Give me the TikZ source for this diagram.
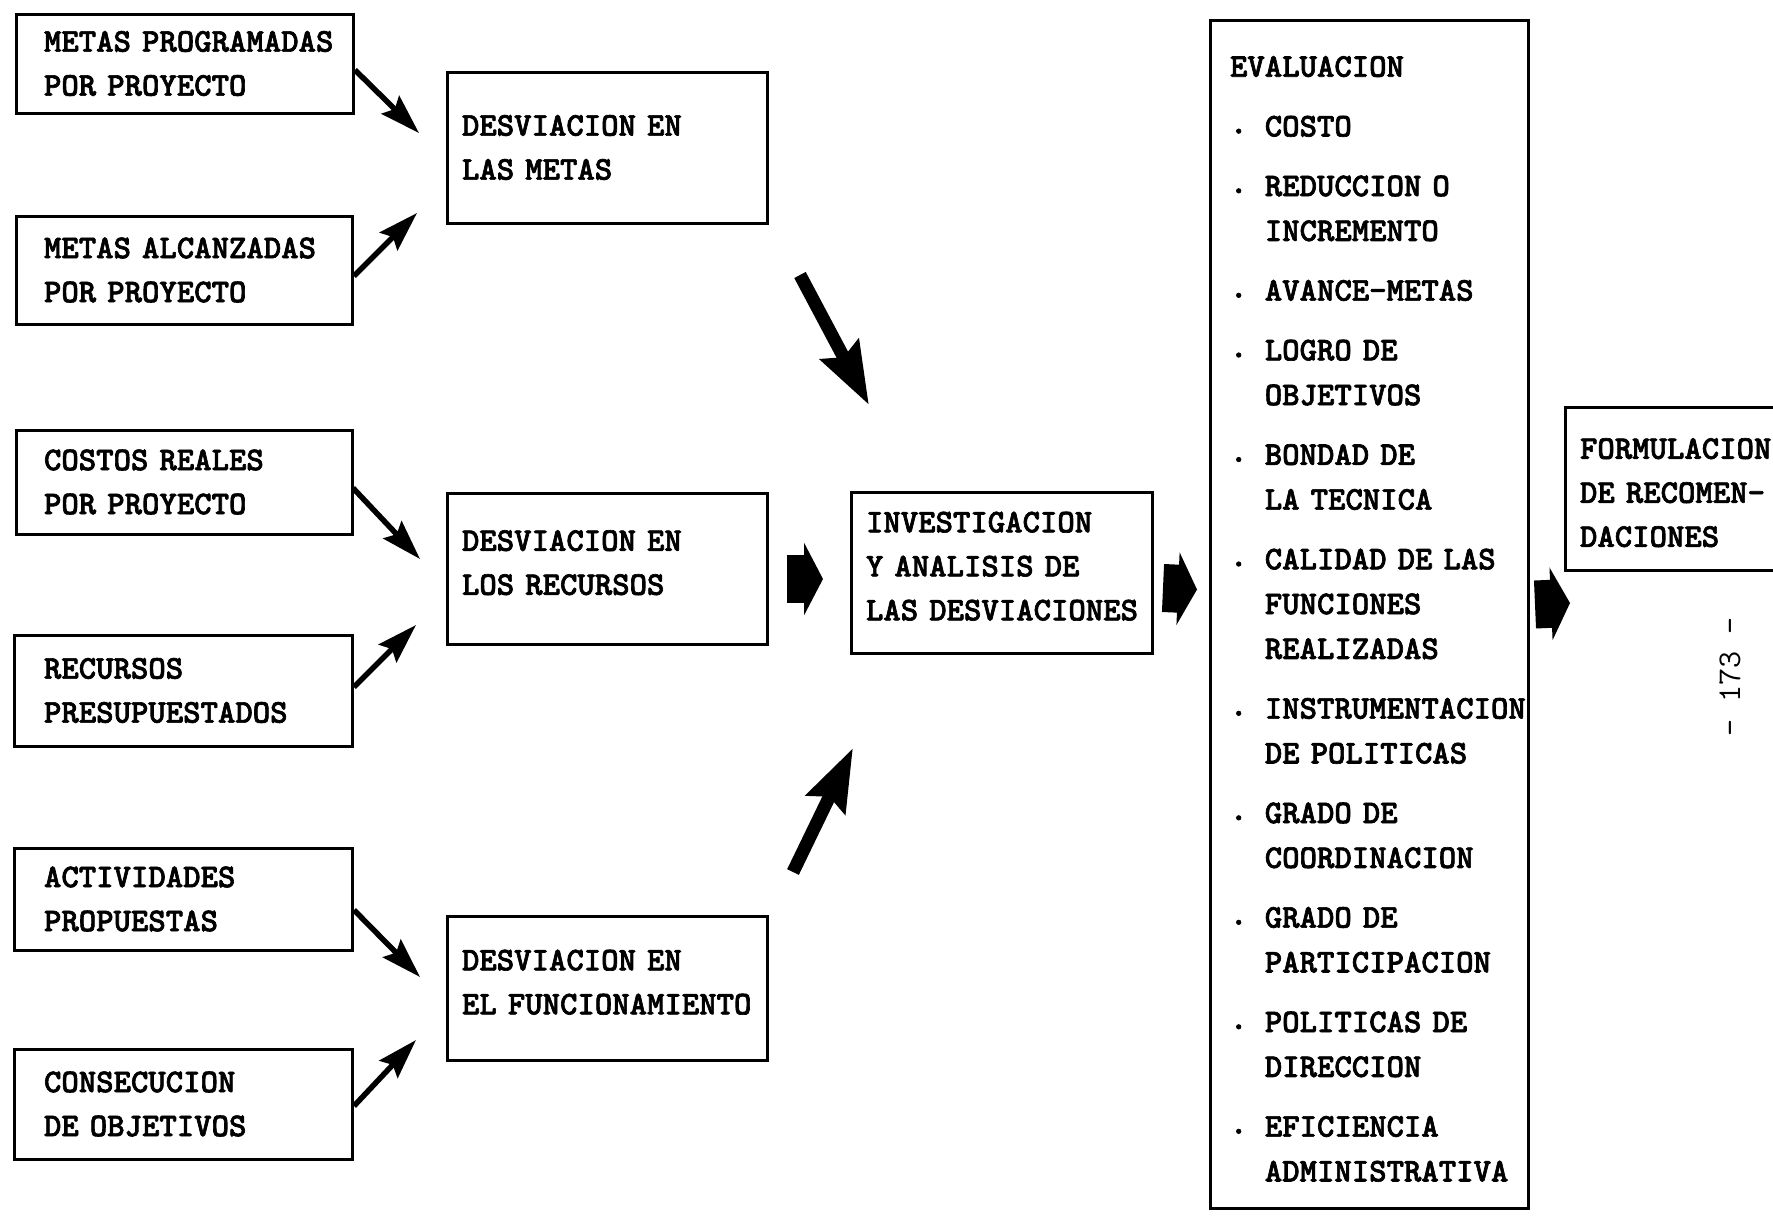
\documentclass[tikz,border=0pt]{standalone}
\usepackage{fontspec}
\newfontfamily\twb{lmmonolt10-bold.otf}[FakeBold=2]
\usetikzlibrary{arrows.meta,calc}
\hyphenpenalty=10000
\exhyphenpenalty=10000
\newcommand\evbul{\makebox[34.8pt][l]{\raisebox{3pt}{.}}}
\newcommand\evind{\hspace*{34.8pt}}
\newcommand\topstrut[1]{\rule{0pt}{#1}}
\newcommand\botstrut[1]{\rule[-#1]{0pt}{#1}}
\begin{document}
\begin{tikzpicture}[x=1pt,y=-1pt,
  box/.style={draw, line width=3pt, anchor=north west, inner xsep=0pt, inner ysep=0pt,
    outer sep=0pt, align=left, font=\twb\fontsize{33.14}{44}\selectfont},
  sarrow/.style={line width=5.5pt, -{Stealth[length=40pt,width=25pt,inset=6pt]}},
  barrow/.style={line width=13pt, -{Stealth[length=62pt,width=42pt,inset=8pt]}},
  blockarrow/.style={line width=48pt, -{Triangle[length=19pt,width=72pt]}},
  pagenum/.style={font=\ttfamily\fontsize{33.14}{40}\selectfont, rotate=90}
]
\useasboundingbox (0,0) rectangle (1773,1216);
\fill[white] (0,0) rectangle (1773,1216);
\clip (0,0) rectangle (1773,1216);

% left column
\node[box, text width=281pt, minimum width=337pt, minimum height=99pt] (b1) at (16,14)
  {METAS~PROGRAMADAS\\POR~PROYECTO};
\node[box, text width=280pt, minimum width=336pt, minimum height=108pt] (b2) at (16,216)
  {METAS~ALCANZADAS\\POR~PROYECTO};
\node[box, text width=280pt, minimum width=336pt, minimum height=104pt] (b3) at (16,430)
  {COSTOS~REALES\\POR~PROYECTO};
\node[box, text width=278pt, minimum width=338pt, minimum height=111pt] (b4) at (14,635)
  {RECURSOS\\PRESUPUESTADOS};
\node[box, text width=278pt, minimum width=338pt, minimum height=102pt] (b5) at (14,848)
  {ACTIVIDADES\\PROPUESTAS};
\node[box, text width=278pt, minimum width=338pt, minimum height=110pt] (b6) at (14,1049)
  {CONSECUCION\\DE~OBJETIVOS};

% middle column
\node[box, text width=290pt, minimum width=320pt, minimum height=151pt] (dm) at (447,72)
  {DESVIACION~EN\\LAS~METAS};
\node[box, text width=290pt, minimum width=320pt, minimum height=151pt] (dr) at (447,493)
  {DESVIACION~EN\\LOS~RECURSOS\botstrut{12pt}};
\node[box, text width=290pt, minimum width=320pt, minimum height=144pt] (df) at (447,916)
  {DESVIACION~EN\\EL~FUNCIONAMIENTO\botstrut{12pt}};

\node[box, text width=271pt, minimum width=301pt, minimum height=161pt] (inv) at (851,492)
  {INVESTIGACION\\Y~ANALISIS~DE\\LAS~DESVIACIONES\botstrut{13pt}};

\node[box, text width=278pt, minimum width=318pt, minimum height=1188pt,
      font=\twb\fontsize{33.14}{44.8}\selectfont] (ev) at (1210,20)
  {\topstrut{30.5pt}EVALUACION\\[14.9pt]
   \evbul COSTO\\[14.9pt]
   \evbul REDUCCION~O\\ \evind INCREMENTO\\[14.9pt]
   \evbul AVANCE-METAS\\[14.9pt]
   \evbul LOGRO~DE\\ \evind OBJETIVOS\\[14.9pt]
   \evbul BONDAD~DE\\ \evind LA~TECNICA\\[14.9pt]
   \evbul CALIDAD~DE~LAS\\ \evind FUNCIONES\\ \evind REALIZADAS\\[14.9pt]
   \evbul INSTRUMENTACION\\ \evind DE~POLITICAS\\[14.9pt]
   \evbul GRADO~DE\\ \evind COORDINACION\\[14.9pt]
   \evbul GRADO~DE\\ \evind PARTICIPACION\\[14.9pt]
   \evbul POLITICAS~DE\\ \evind DIRECCION\\[14.9pt]
   \evbul EFICIENCIA\\ \evind ADMINISTRATIVA};

\node[box, text width=230pt, minimum width=260pt, minimum height=163pt] (fr) at (1565,407)
  {\topstrut{29pt}FORMULACION\\DE~RECOMEN-\\DACIONES};

\node[pagenum] (pg) at (1730,677) {- 173 -};

% small arrows
\draw[sarrow] ($(b1.east)+(2,6.5)$) -- ($(dm.west)+(-28,-14.5)$);
\draw[sarrow] ($(b2.east)+(2,6)$) -- ($(dm.west)+(-30,65.5)$);
\draw[sarrow] ($(b3.east)+(1,6)$) -- ($(dr.west)+(-27,-9.5)$);
\draw[sarrow] ($(b4.east)+(2,-3.5)$) -- ($(dr.west)+(-31,56.5)$);
\draw[sarrow] ($(b5.east)+(2,11)$) -- ($(df.west)+(-27,-11)$);
\draw[sarrow] ($(b6.east)+(2,2)$) -- ($(df.west)+(-31,52)$);

% big arrows
\draw[barrow] ($(dm.south east)+(33,52)$) -- ($(inv.north west)+(18,-87)$);
\draw[barrow] ($(df.north east)+(26,-44)$) -- ($(inv.south west)+(2,95)$);

% block arrows
\draw[blockarrow] ($(dr.east)+(20,10.5)$) -- ($(inv.west)+(-28,6.5)$);
\draw[blockarrow] ($(inv.east)+(11,15.5)$) -- ($(ev.west)+(-13,-24.5)$);
\draw[blockarrow] ($(ev.east)+(7,-9.5)$) -- ($(fr.west)+(5,114.5)$);
\end{tikzpicture}
\end{document}
